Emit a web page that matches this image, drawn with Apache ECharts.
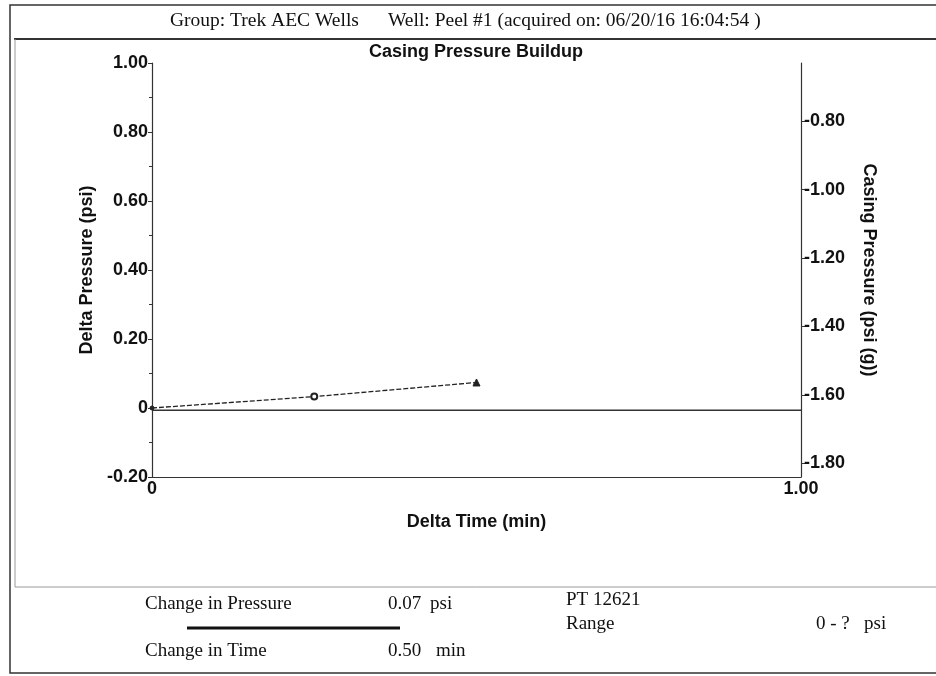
<!DOCTYPE html>
<html>
<head>
<meta charset="utf-8">
<script src="https://cdn.jsdelivr.net/npm/echarts@6/dist/echarts.min.js"></script>
<style>html,body{margin:0;padding:0;background:#fff}#c{width:936px;height:676px}</style>
</head>
<body>
<div id="c"></div>
<script>
// Data
const deltaTime = [0, 0.25, 0.5];
const deltaPressure = [0, 0.033, 0.074];
const casingTime = [0, 1];
const casingPressure = [-1.645, -1.645];
const leftTicks = [-0.2, 0, 0.2, 0.4, 0.6, 0.8, 1.0];
const rightTicks = [-1.8, -1.6, -1.4, -1.2, -1.0, -0.8];
const pointSymbols = ['circle', 'emptyCircle', 'triangle'];
const pointSizes = [4, 6, 7];

const chart = echarts.init(document.getElementById('c'), null, {renderer: 'canvas'});
const labFont = {fontFamily: 'Liberation Sans', fontWeight: 'bold', fontSize: 18, color: '#111'};
const nameFont = {fontFamily: 'Liberation Sans', fontWeight: 'bold', fontSize: 18, color: '#111'};
const serif = '19px "Liberation Serif"';
const headSerif = '19.5px "Liberation Serif"';
const lineCol = '#333';
function T(x, y, text, font) {
  return {type: 'text', x: x, y: y, style: {text: text, font: font || serif, fill: '#111', verticalAlign: 'middle'}};
}

chart.setOption({
  animation: false,
  backgroundColor: '#fff',
  grid: {left: 152, right: 135, top: 63, bottom: 199},
  xAxis: {
    type: 'value', min: 0, max: 1, interval: 1,
    name: 'Delta Time (min)', nameLocation: 'middle', nameGap: 36,
    nameTextStyle: nameFont,
    axisLine: {show: true, onZero: false, lineStyle: {color: lineCol, width: 1.2}},
    axisTick: {show: false},
    splitLine: {show: false},
    axisLabel: Object.assign({margin: 3, formatter: v => v === 0 ? '0' : v.toFixed(2)}, labFont)
  },
  yAxis: [{
    type: 'value', min: -0.2, max: 1, interval: 0.2, position: 'left',
    name: 'Delta Pressure (psi)', nameLocation: 'middle', nameGap: 52,
    nameTextStyle: nameFont,
    axisLine: {show: true, lineStyle: {color: lineCol, width: 1.2}},
    axisTick: {show: true, length: 4, lineStyle: {color: lineCol}},
    minorTick: {show: true, splitNumber: 2, length: 3, lineStyle: {color: lineCol}},
    splitLine: {show: false},
    axisLabel: Object.assign({margin: 4, formatter: v => Math.abs(v) < 1e-9 ? '0' : v.toFixed(2),
      customValues: leftTicks}, labFont)
  }, {
    type: 'value', min: -1.84, max: -0.63, position: 'right',
    name: 'Casing Pressure (psi (g))', nameLocation: 'middle', nameGap: 59, nameRotate: -90,
    nameTextStyle: nameFont,
    axisLine: {show: true, lineStyle: {color: lineCol, width: 1.2}},
    axisTick: {show: true, length: 4, customValues: rightTicks, lineStyle: {color: lineCol}},
    splitLine: {show: false},
    axisLabel: Object.assign({margin: 3, customValues: rightTicks, formatter: v => v.toFixed(2)}, labFont)
  }],
  series: [{
    type: 'line',
    yAxisIndex: 1,
    data: casingTime.map((t, i) => [t, casingPressure[i]]),
    symbol: 'none',
    lineStyle: {color: lineCol, width: 1.5},
    z: 1
  }, {
    type: 'line',
    yAxisIndex: 0,
    data: deltaTime.map((t, i) => ({value: [t, deltaPressure[i]], symbol: pointSymbols[i], symbolSize: pointSizes[i]})),
    lineStyle: {color: '#222', width: 1.3, type: [5, 2]},
    itemStyle: {color: '#222', borderColor: '#222', borderWidth: 1},
    z: 3
  }],
  graphic: [
    {type: 'rect', shape: {x: 10, y: 5, width: 940, height: 668}, style: {fill: 'none', stroke: lineCol, lineWidth: 1.5}, silent: true},
    {type: 'line', shape: {x1: 14, y1: 39, x2: 936, y2: 39}, style: {stroke: lineCol, lineWidth: 2}, silent: true},
    {type: 'line', shape: {x1: 15, y1: 39, x2: 15, y2: 587}, style: {stroke: '#999', lineWidth: 1}, silent: true},
    {type: 'line', shape: {x1: 15, y1: 587, x2: 936, y2: 587}, style: {stroke: '#999', lineWidth: 1}, silent: true},
    {type: 'text', x: 476, y: 52, style: {text: 'Casing Pressure Buildup', fontFamily: 'Liberation Sans', fontWeight: 'bold', fontSize: 18, fill: '#111', align: 'center', verticalAlign: 'middle'}},
    T(170, 21, 'Group: Trek AEC Wells', headSerif),
    T(388, 21, 'Well: Peel #1 (acquired on: 06/20/16 16:04:54 )', headSerif),
    T(145, 604, 'Change in Pressure'),
    T(388, 604, '0.07'),
    T(430, 604, 'psi'),
    {type: 'line', shape: {x1: 187, y1: 628, x2: 400, y2: 628}, style: {stroke: '#111', lineWidth: 3}, silent: true},
    T(145, 651, 'Change in Time'),
    T(388, 651, '0.50'),
    T(436, 651, 'min'),
    T(566, 600, 'PT 12621'),
    T(566, 624, 'Range'),
    T(816, 624, '0 - ?'),
    T(864, 624, 'psi')
  ]
});
</script>
</body>
</html>
